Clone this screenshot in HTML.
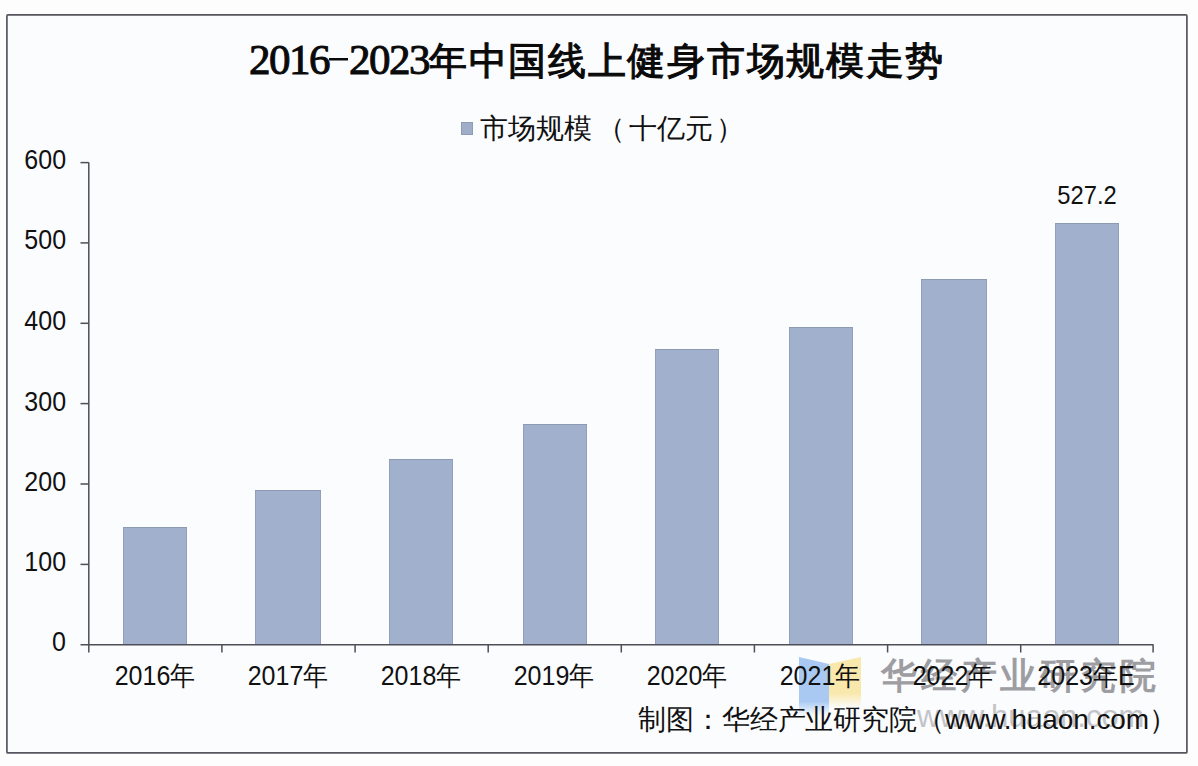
<!DOCTYPE html>
<html><head><meta charset="utf-8">
<style>
html,body{margin:0;padding:0;}
body{width:1198px;height:766px;position:relative;overflow:hidden;background:#fdfdfd;font-family:"Liberation Sans",sans-serif;color:#111;}
.frame{position:absolute;left:7px;top:15px;width:1180px;height:738px;background:#fbfcfe;}
.abs{position:absolute;white-space:nowrap;}
.title{left:6px;width:1182px;top:35px;text-align:center;font-family:"Liberation Serif",serif;font-weight:normal;font-size:41px;line-height:50px;color:#0a0a0a;}
.tdig{font-size:43px;letter-spacing:-1.5px;-webkit-text-stroke:1px #0a0a0a;}
.hy{display:inline-block;width:20px;color:transparent;background:linear-gradient(#0a0a0a,#0a0a0a) no-repeat 0px 22.5px/19px 2.5px;}
.tcjk{font-weight:400;font-size:38px;letter-spacing:1.7px;-webkit-text-stroke:1.1px #0a0a0a;}
.leg-sq{left:461px;top:122px;width:12px;height:13px;background:#9fadc9;box-shadow:inset 0 0 0 1px #8f9bb3;}
.leg-tx{left:480px;top:111px;font-size:28px;line-height:36px;color:#111;}
.yl{right:1132px;font-size:27px;line-height:30px;text-align:right;transform:scaleX(0.926);transform-origin:100% 50%;}
.axis{background:#55555c;}
.bar{position:absolute;width:64px;background:#a1b0cc;border-top:1px solid #8d9ab2;box-sizing:border-box;box-shadow:inset 1px 0 #94a0b9,inset -1px 0 #94a0b9;}
.xl{font-size:27px;line-height:30px;text-align:center;width:134px;transform:scaleX(0.926);transform-origin:50% 50%;}
</style></head><body>
<div class="frame"></div>
<svg class="abs" style="left:0;top:0" width="1198" height="766"><rect x="6.9" y="14.95" width="1180" height="738" rx="1" fill="none" stroke="#56565e" stroke-width="1.7"/></svg>
<div class="abs title"><span class="tdig">2016</span><span class="hy">-</span><span class="tdig">2023</span><span class="tcjk">年中国线上健身市场规模走势</span></div>
<div class="abs leg-sq"></div>
<div class="abs leg-tx">市场规模</div>
<div class="abs leg-tx" style="left:597px">（</div>
<div class="abs leg-tx" style="left:629px">十亿元</div>
<div class="abs leg-tx" style="left:716px">）</div>

<!-- y labels -->
<div class="abs yl" style="top:145px">600</div>
<div class="abs yl" style="top:225px">500</div>
<div class="abs yl" style="top:306px">400</div>
<div class="abs yl" style="top:387px">300</div>
<div class="abs yl" style="top:467px">200</div>
<div class="abs yl" style="top:547px">100</div>
<div class="abs yl" style="top:627px">0</div>

<!-- bars -->
<div class="bar" style="left:123px;top:527px;height:117px"></div>
<div class="bar" style="left:255px;top:490px;height:154px;width:66px"></div>
<div class="bar" style="left:389px;top:459px;height:185px"></div>
<div class="bar" style="left:523px;top:424px;height:220px"></div>
<div class="bar" style="left:655px;top:349px;height:295px"></div>
<div class="bar" style="left:789px;top:327px;height:317px"></div>
<div class="bar" style="left:921px;top:279px;height:365px;width:66px"></div>
<div class="bar" style="left:1055px;top:223px;height:421px"></div>

<!-- axes -->
<svg class="abs" style="left:0;top:0" width="1198" height="766" viewBox="0 0 1198 766"><g stroke="#4e4e56" stroke-width="1.5" fill="none"><line x1="88.8" y1="162.5" x2="88.8" y2="652.5"/><line x1="80.5" y1="644.7" x2="1153.5" y2="644.7"/><line x1="80.5" y1="162.6" x2="88.8" y2="162.6"/><line x1="80.5" y1="242.9" x2="88.8" y2="242.9"/><line x1="80.5" y1="323.3" x2="88.8" y2="323.3"/><line x1="80.5" y1="403.6" x2="88.8" y2="403.6"/><line x1="80.5" y1="484.0" x2="88.8" y2="484.0"/><line x1="80.5" y1="564.4" x2="88.8" y2="564.4"/><line x1="221.9" y1="644.7" x2="221.9" y2="652.5"/><line x1="355.1" y1="644.7" x2="355.1" y2="652.5"/><line x1="488.2" y1="644.7" x2="488.2" y2="652.5"/><line x1="621.3" y1="644.7" x2="621.3" y2="652.5"/><line x1="754.4" y1="644.7" x2="754.4" y2="652.5"/><line x1="887.6" y1="644.7" x2="887.6" y2="652.5"/><line x1="1020.7" y1="644.7" x2="1020.7" y2="652.5"/><line x1="1153.1" y1="644.7" x2="1153.1" y2="652.5"/></g></svg>

<!-- watermark -->
<svg class="abs" style="left:796px;top:654px" width="68" height="66" viewBox="0 0 68 66">
<defs>
<linearGradient id="gb" x1="0" y1="0" x2="0" y2="1"><stop offset="0" stop-color="#a9c9f3"/><stop offset="0.75" stop-color="#a9c9f3"/><stop offset="1" stop-color="#a9c9f3" stop-opacity="0"/></linearGradient>
<linearGradient id="gy" x1="0" y1="0" x2="0" y2="1"><stop offset="0" stop-color="#f9e8ab"/><stop offset="0.7" stop-color="#f9e8ab"/><stop offset="1" stop-color="#f9e8ab" stop-opacity="0"/></linearGradient>
</defs>
<polygon points="3,3 33,10 33,62 3,62" fill="url(#gb)"/>
<polygon points="33,10 65,3 65,54 33,54" fill="url(#gy)"/>
</svg>
<div class="abs" style="left:881px;top:651px;font-size:36px;line-height:50px;letter-spacing:3.8px;font-weight:bold;color:#9e9ea2;">华经产业研究院</div>
<div class="abs" style="left:917px;top:699px;font-size:31px;line-height:36px;color:#c4c4c8;">www.huaon.com</div>

<!-- x labels -->
<div class="abs xl" style="left:88px;top:661px">2016年</div>
<div class="abs xl" style="left:221px;top:661px">2017年</div>
<div class="abs xl" style="left:354px;top:661px">2018年</div>
<div class="abs xl" style="left:487px;top:661px">2019年</div>
<div class="abs xl" style="left:620px;top:661px">2020年</div>
<div class="abs xl" style="left:753px;top:661px">2021年</div>
<div class="abs xl" style="left:886px;top:661px">2022年</div>
<div class="abs xl" style="left:1019px;top:661px">2023年E</div>

<div class="abs" style="left:1020px;top:180px;width:134px;text-align:center;font-size:25px;line-height:30px;transform:scaleX(0.95);">527.2</div>

<!-- source -->
<div class="abs" style="left:638px;top:702px;letter-spacing:-0.1px;font-size:28px;line-height:36px;">制图：华经产业研究院（www.huaon.com）</div>
</body></html>
